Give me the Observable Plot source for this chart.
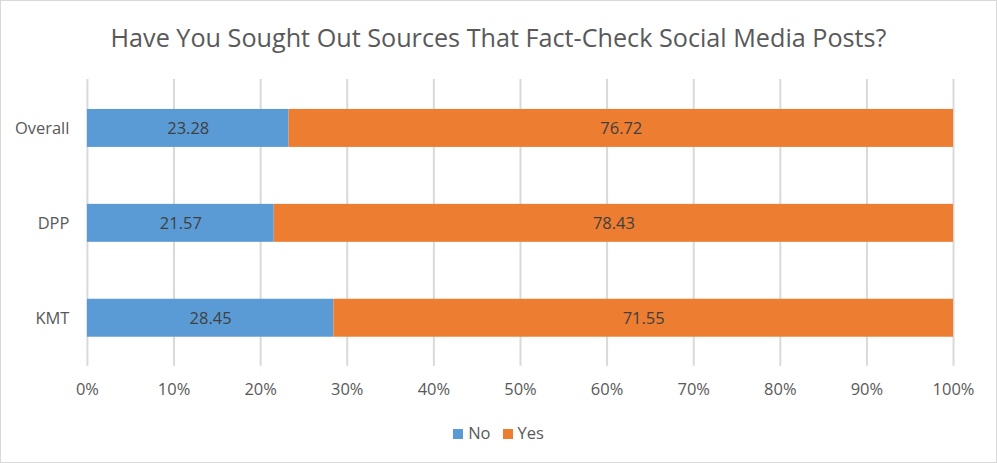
<!DOCTYPE html>
<html>
<head>
<meta charset="utf-8">
<script src="https://cdn.jsdelivr.net/npm/d3@7"></script>
<script src="https://cdn.jsdelivr.net/npm/@observablehq/plot@0.6"></script>
<style>
  html, body { margin: 0; padding: 0; background: #fff; }
  #frame { position: relative; width: 995px; height: 461px; border: 1px solid #d9d9d9; overflow: hidden; font-family: "Open Sans", "Noto Sans", sans-serif; }
  #title { position: absolute; left: 0; top: 0; width: 995px; height: 63px; text-align: center; line-height: 72px; font-size: 25.2px; color: #595959; white-space: nowrap; }
  #chart { position: absolute; left: -1px; top: 63px; }
  #legend { position: absolute; left: 0; top: 420px; width: 995px; text-align: center; font-size: 16.5px; color: #595959; }
  #legend span.sw { display: inline-block; width: 10px; height: 10px; margin-right: 5px; vertical-align: 0px; }
  #legend span.item { margin: 0 6px; }
</style>
</head>
<body>
<div id="frame">
  <div id="title">Have You Sought Out Sources That Fact-Check Social Media Posts?</div>
  <div id="chart"></div>
  <div id="legend"></div>
</div>
<script>
const categories = ["Overall", "DPP", "KMT"];
const noValues = [23.28, 21.57, 28.45];
const yesValues = [76.72, 78.43, 71.55];
const seriesNames = ["No", "Yes"];
const seriesColors = ["#5B9BD5", "#ED7D31"];
const xTicks = [0, 10, 20, 30, 40, 50, 60, 70, 80, 90, 100];

const rows = [];
categories.forEach((c, i) => {
  rows.push({cat: c, series: "No", value: noValues[i]});
  rows.push({cat: c, series: "Yes", value: yesValues[i]});
});

const chart = Plot.plot({
  width: 997,
  height: 340,
  marginLeft: 87,
  marginRight: 43,
  marginTop: 15,
  marginBottom: 38,
  style: {fontFamily: "'Open Sans', 'Noto Sans', sans-serif", fontSize: "16.5px", color: "#595959", background: "transparent"},
  x: {domain: [0, 100], ticks: xTicks, tickFormat: d => d + "%", tickSize: 0, tickPadding: 17, label: null},
  y: {domain: categories, padding: 0.604, paddingOuter: 0.302, tickSize: 0, tickPadding: 18, label: null},
  color: {domain: seriesNames, range: seriesColors},
  marks: [
    Plot.gridX(xTicks, {stroke: "#d9d9d9", strokeOpacity: 1, strokeWidth: 2}),
    Plot.barX(rows, Plot.stackX({x: "value", y: "cat", fill: "series", order: seriesNames})),
    Plot.text(rows, Plot.stackX({x: "value", y: "cat", z: "series", order: seriesNames, text: d => d.value.toFixed(2), fill: "#404040", fontSize: 16.5})),
    Plot.axisX({ticks: xTicks, tickFormat: d => d + "%", tickSize: 0, tickPadding: 17, label: null, fill: "#595959", fontSize: 16.5}),
    Plot.axisY({tickSize: 0, tickPadding: 18, label: null, fill: "#595959", fontSize: 16.5})
  ]
});
document.getElementById("chart").appendChild(chart);

const legend = document.getElementById("legend");
seriesNames.forEach((s, i) => {
  const item = document.createElement("span");
  item.className = "item";
  const sw = document.createElement("span");
  sw.className = "sw";
  sw.style.background = seriesColors[i];
  item.appendChild(sw);
  item.appendChild(document.createTextNode(s));
  legend.appendChild(item);
});
</script>
</body>
</html>
